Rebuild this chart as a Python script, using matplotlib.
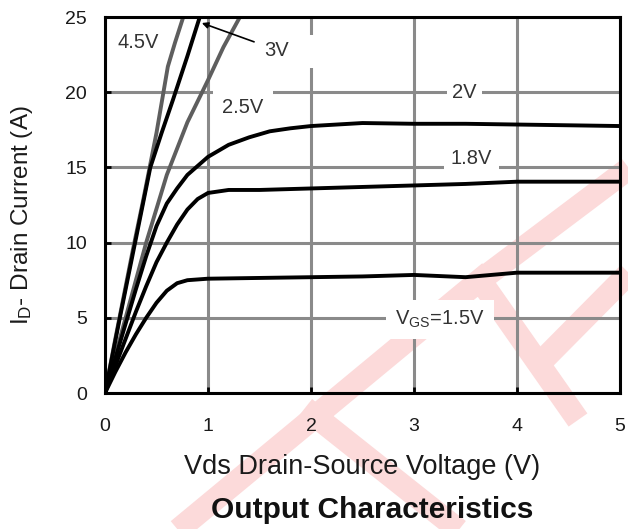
import numpy as np
import matplotlib.pyplot as plt
from matplotlib.lines import Line2D

plt.rcParams['font.family'] = ['Liberation Sans', 'DejaVu Sans']
plt.rcParams['mathtext.default'] = 'regular'

# ===== 数据 =====
vds_15 = [0, 0.1, 0.2, 0.3, 0.4, 0.5, 0.6, 0.7, 0.8, 1.0, 1.5, 2.0, 2.5, 3.0, 3.5, 4.0, 4.5, 5.0]
id_15 = [0, 1.4, 2.7, 3.9, 5.0, 6.0, 6.8, 7.3, 7.5, 7.6, 7.65, 7.7, 7.75, 7.85, 7.7, 8.0, 8.0, 8.0]

vds_18 = [0, 0.1, 0.2, 0.3, 0.4, 0.5, 0.6, 0.7, 0.8, 0.9, 1.0, 1.2, 1.5, 2.0, 2.5, 3.0, 3.5, 4.0, 4.5, 5.0]
id_18 = [0, 1.8, 3.6, 5.4, 7.1, 8.7, 10.0, 11.2, 12.2, 12.9, 13.3, 13.5, 13.5, 13.6, 13.7, 13.8, 13.9, 14.05, 14.05, 14.05]

vds_20 = [0, 0.1, 0.2, 0.3, 0.4, 0.5, 0.6, 0.7, 0.8, 0.9, 1.0, 1.2, 1.4, 1.6, 1.8, 2.0, 2.5, 3.0, 3.5, 4.0, 4.5, 5.0]
id_20 = [0, 2.3, 4.6, 6.9, 9.1, 11.1, 12.6, 13.6, 14.5, 15.1, 15.7, 16.5, 17.0, 17.4, 17.6, 17.75, 17.95, 17.9, 17.9, 17.85, 17.8, 17.75]

vds_25 = [0, 0.2, 0.4, 0.6, 0.8, 1.0, 1.15, 1.31]
id_25 = [0, 5.0, 10.0, 14.5, 18.0, 20.8, 23.0, 25.0]

vds_30 = [0, 0.15, 0.31, 0.44, 0.55, 0.66, 0.8, 0.92]
id_30 = [0, 5.2, 10.6, 15.0, 17.3, 19.5, 22.4, 25.0]

vds_45 = [0, 0.1, 0.27, 0.37, 0.5, 0.61, 0.68, 0.76]
id_45 = [0, 3.6, 9.5, 12.8, 17.3, 21.7, 23.3, 25.0]

x_ticks = [0, 1, 2, 3, 4, 5]
y_ticks = [0, 5, 10, 15, 20, 25]

W, H = 628, 529

# ===== 绘图 =====
fig = plt.figure(figsize=(W / 100, H / 100), dpi=100)

# 水印 (淡红色斜条), 像素坐标
def px(pts):
    return [p[0] / W for p in pts], [1 - p[1] / H for p in pts]

wm_paths = [
    [(172, 535), (480, 280), (578, 420)],
    [(470, 288), (640, 160)],
    [(305, 408), (465, 535)],
    [(545, 358), (640, 262)],
]
for pts in wm_paths:
    xs, ys = px(pts)
    fig.add_artist(Line2D(xs, ys, transform=fig.transFigure, color='#fcdada',
                          lw=16.5, solid_capstyle='butt', solid_joinstyle='miter', zorder=-5))

ax = fig.add_axes([105 / W, 1 - 393 / H, 515 / W, 376 / H])
ax.set_facecolor('none')

gray = '#5e5e5e'
ax.plot(vds_45, id_45, color=gray, lw=2.8, zorder=3)
ax.plot(vds_25, id_25, color=gray, lw=2.8, zorder=3)
ax.plot(vds_30, id_30, color='black', lw=2.8, zorder=4)
ax.plot(vds_20, id_20, color='black', lw=2.8, zorder=4)
ax.plot(vds_18, id_18, color='black', lw=2.8, zorder=4)
ax.plot(vds_15, id_15, color='black', lw=2.8, zorder=4)

ax.set_xlim(0, 5)
ax.set_ylim(0, 25)
ax.set_xticks(x_ticks)
ax.set_yticks(y_ticks)
ax.grid(True, color='#8a8a8a', lw=2.2, zorder=1)
ax.set_axisbelow(True)
for s in ax.spines.values():
    s.set_linewidth(2.2)
    s.set_zorder(6)
ax.tick_params(axis='both', direction='in', length=4, width=2, labelsize=14,
               labelcolor='#1a1a1a')
ax.tick_params(axis='x', pad=18)
ax.tick_params(axis='y', pad=13)

# 曲线标注
lab = dict(fontsize=14.5, color='#333333', ha='center', va='center', zorder=7)
ax.text(0.32, 23.3, '4.5V', **lab)
ax.text(1.34, 18.95, '2.5V', bbox=dict(boxstyle='square,pad=0.45', fc='white', ec='none'), **lab)
ax.text(3.49, 19.95, '2V', bbox=dict(boxstyle='square,pad=0.25', fc='white', ec='none'), **lab)
ax.text(3.56, 15.6, '1.8V', bbox=dict(boxstyle='square,pad=0.35', fc='white', ec='none'), **lab)
ax.text(3.25, 4.9, 'V$_{GS}$=1.5V', bbox=dict(boxstyle='square,pad=0.45', fc='white', ec='none'), **lab)
ax.annotate('3V', xy=(0.94, 24.6), xytext=(1.67, 22.8), fontsize=14.5, color='#333333',
            ha='center', va='center', zorder=7,
            arrowprops=dict(arrowstyle='-|>', color='black', lw=1.2,
                            shrinkA=6, shrinkB=0, mutation_scale=9))
# 网格线上的白色遮挡块
ax.add_patch(plt.Rectangle((1.95, 21.6), 0.1, 2.2, fc='white', ec='none', zorder=2))

fig.text(362 / W, 1 - 467 / H, 'Vds Drain-Source Voltage (V)', fontsize=19.5,
         ha='center', va='center', color='#1a1a1a')
fig.text(372 / W, 1 - 510 / H, 'Output Characteristics', fontsize=21.5,
         fontweight='bold', ha='center', va='center', color='#111111')
fig.text(22 / W, 1 - 215 / H, 'I$_D$- Drain Current (A)', fontsize=17.5,
         rotation=90, ha='center', va='center', color='#1a1a1a')

fig.savefig('out.png', dpi=100)
